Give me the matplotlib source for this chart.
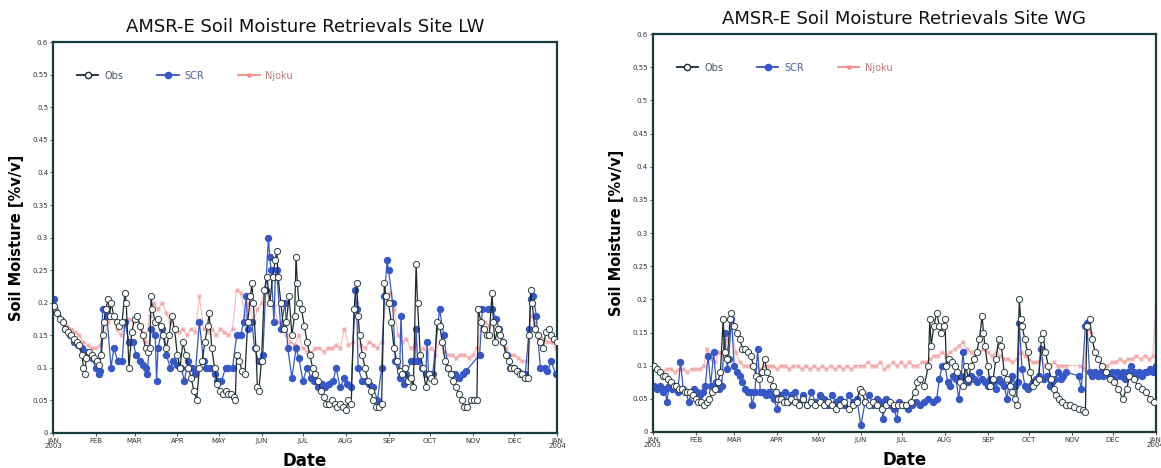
import numpy as np
import matplotlib.pyplot as plt
from matplotlib.lines import Line2D

# day of year 2003 (0 = 1 Jan), soil moisture value
lw_obs = [(1, 0.195), (3, 0.185), (5, 0.175), (7, 0.17), (9, 0.16), (11, 0.155), (13, 0.15), (15, 0.145),
          (17, 0.14), (19, 0.135), (21, 0.12), (22, 0.1), (23, 0.09), (24, 0.115), (26, 0.125), (28, 0.12),
          (30, 0.115), (32, 0.11), (33, 0.105), (35, 0.12), (36, 0.15), (37, 0.17), (38, 0.19), (40, 0.205),
          (41, 0.18), (42, 0.2), (44, 0.18), (46, 0.17), (48, 0.165), (50, 0.17), (52, 0.215), (53, 0.2),
          (55, 0.1), (57, 0.155), (59, 0.175), (61, 0.18), (63, 0.165), (65, 0.15), (67, 0.13), (69, 0.125),
          (70, 0.13), (71, 0.21), (72, 0.19), (74, 0.17), (76, 0.175), (78, 0.165), (80, 0.15), (82, 0.13),
          (84, 0.15), (86, 0.18), (88, 0.16), (90, 0.12), (92, 0.1), (94, 0.14), (96, 0.12), (98, 0.1),
          (100, 0.085), (102, 0.065), (104, 0.05), (106, 0.1), (108, 0.11), (110, 0.14), (112, 0.165),
          (113, 0.185), (115, 0.13), (117, 0.1), (119, 0.075), (121, 0.065), (123, 0.06), (125, 0.065),
          (127, 0.06), (129, 0.06), (131, 0.055), (132, 0.05), (133, 0.12), (135, 0.11), (137, 0.095),
          (139, 0.09), (141, 0.17), (143, 0.21), (144, 0.23), (145, 0.2), (147, 0.13), (148, 0.07),
          (149, 0.065), (151, 0.11), (153, 0.22), (155, 0.24), (157, 0.2), (159, 0.24), (161, 0.265),
          (162, 0.28), (163, 0.24), (165, 0.2), (167, 0.16), (169, 0.17), (171, 0.21), (173, 0.15),
          (175, 0.18), (176, 0.27), (177, 0.23), (178, 0.2), (180, 0.19), (182, 0.165), (184, 0.14),
          (186, 0.12), (188, 0.1), (190, 0.09), (192, 0.08), (194, 0.065), (196, 0.055), (198, 0.045),
          (200, 0.045), (202, 0.05), (204, 0.045), (206, 0.04), (208, 0.045), (210, 0.04), (212, 0.035),
          (214, 0.05), (216, 0.045), (218, 0.19), (220, 0.23), (221, 0.18), (222, 0.15), (224, 0.12),
          (226, 0.1), (228, 0.08), (230, 0.065), (232, 0.05), (234, 0.04), (236, 0.04), (238, 0.045),
          (240, 0.23), (241, 0.21), (243, 0.2), (245, 0.17), (247, 0.13), (249, 0.11), (251, 0.095),
          (253, 0.09), (255, 0.1), (257, 0.08), (259, 0.085), (261, 0.07), (263, 0.26), (264, 0.2),
          (266, 0.12), (268, 0.1), (270, 0.07), (272, 0.09), (274, 0.085), (276, 0.08), (278, 0.17),
          (280, 0.165), (282, 0.14), (284, 0.11), (286, 0.1), (288, 0.09), (290, 0.08), (292, 0.07),
          (294, 0.06), (296, 0.05), (298, 0.04), (300, 0.04), (303, 0.05), (305, 0.05), (307, 0.05),
          (308, 0.19), (310, 0.17), (312, 0.16), (314, 0.15), (316, 0.15), (318, 0.215), (319, 0.17),
          (320, 0.14), (322, 0.16), (324, 0.15), (326, 0.14), (328, 0.12), (330, 0.11), (332, 0.1),
          (334, 0.1), (336, 0.095), (338, 0.09), (340, 0.09), (342, 0.085), (344, 0.085), (345, 0.15),
          (346, 0.22), (347, 0.2), (349, 0.16), (351, 0.15), (353, 0.14), (355, 0.13), (357, 0.155),
          (359, 0.16), (361, 0.15), (363, 0.145), (365, 0.14)]

lw_scr = [(1, 0.205), (9, 0.16), (12, 0.15), (15, 0.14), (18, 0.135), (21, 0.13), (24, 0.125), (26, 0.12),
          (28, 0.115), (31, 0.1), (33, 0.09), (34, 0.095), (36, 0.19), (39, 0.18), (42, 0.1), (44, 0.13),
          (47, 0.11), (50, 0.11), (52, 0.17), (55, 0.14), (58, 0.14), (60, 0.12), (63, 0.11), (65, 0.105),
          (67, 0.1), (68, 0.09), (71, 0.16), (74, 0.15), (75, 0.08), (76, 0.13), (79, 0.16), (82, 0.12),
          (85, 0.1), (87, 0.11), (90, 0.105), (93, 0.1), (95, 0.08), (98, 0.11), (101, 0.1), (103, 0.09),
          (106, 0.17), (109, 0.11), (111, 0.1), (114, 0.1), (117, 0.09), (119, 0.08), (122, 0.08),
          (125, 0.1), (127, 0.1), (130, 0.1), (133, 0.15), (136, 0.15), (138, 0.17), (140, 0.21),
          (141, 0.16), (144, 0.17), (146, 0.13), (149, 0.11), (152, 0.12), (154, 0.22), (156, 0.3),
          (157, 0.27), (158, 0.25), (160, 0.17), (161, 0.24), (162, 0.25), (165, 0.16), (168, 0.2),
          (170, 0.13), (173, 0.085), (176, 0.13), (178, 0.115), (181, 0.08), (184, 0.1), (187, 0.085),
          (189, 0.08), (192, 0.07), (195, 0.075), (197, 0.07), (200, 0.075), (203, 0.08), (205, 0.1),
          (208, 0.07), (211, 0.085), (213, 0.075), (216, 0.07), (219, 0.22), (220, 0.19), (221, 0.1),
          (224, 0.08), (227, 0.08), (229, 0.075), (232, 0.07), (235, 0.05), (238, 0.1), (240, 0.21),
          (242, 0.265), (243, 0.25), (246, 0.2), (248, 0.11), (251, 0.085), (252, 0.18), (254, 0.075),
          (256, 0.09), (259, 0.11), (262, 0.11), (263, 0.16), (264, 0.11), (267, 0.1), (270, 0.09),
          (271, 0.14), (272, 0.09), (275, 0.09), (280, 0.19), (283, 0.15), (286, 0.1), (289, 0.09),
          (291, 0.09), (294, 0.085), (297, 0.09), (299, 0.095), (309, 0.12), (311, 0.19), (315, 0.19),
          (318, 0.19), (321, 0.175), (323, 0.16), (326, 0.14), (329, 0.12), (331, 0.1), (334, 0.1),
          (337, 0.095), (340, 0.09), (342, 0.09), (345, 0.16), (346, 0.205), (348, 0.21), (350, 0.18),
          (353, 0.1), (356, 0.1), (358, 0.095), (361, 0.11), (364, 0.09)]

lw_njoku = [(1, 0.19), (4, 0.18), (7, 0.175), (10, 0.165), (13, 0.16), (16, 0.155), (19, 0.15), (22, 0.14),
            (25, 0.135), (28, 0.13), (31, 0.13), (34, 0.135), (37, 0.15), (40, 0.17), (43, 0.18), (46, 0.16),
            (49, 0.15), (52, 0.165), (55, 0.175), (58, 0.17), (61, 0.175), (64, 0.16), (67, 0.14), (70, 0.18),
            (73, 0.2), (76, 0.19), (79, 0.2), (82, 0.185), (85, 0.17), (88, 0.16), (91, 0.155), (94, 0.16),
            (97, 0.15), (100, 0.16), (103, 0.155), (106, 0.21), (109, 0.16), (112, 0.155), (115, 0.16),
            (118, 0.15), (121, 0.16), (124, 0.155), (127, 0.15), (130, 0.16), (133, 0.22), (136, 0.215),
            (139, 0.18), (142, 0.2), (145, 0.17), (148, 0.19), (151, 0.2), (154, 0.22), (157, 0.2),
            (160, 0.195), (163, 0.17), (166, 0.165), (169, 0.15), (172, 0.14), (175, 0.135), (178, 0.15),
            (181, 0.13), (184, 0.125), (187, 0.125), (190, 0.13), (193, 0.13), (196, 0.125), (199, 0.13),
            (202, 0.13), (205, 0.135), (208, 0.13), (211, 0.16), (214, 0.135), (217, 0.14), (220, 0.2),
            (223, 0.135), (226, 0.13), (229, 0.14), (232, 0.135), (235, 0.13), (238, 0.14), (241, 0.2),
            (244, 0.215), (247, 0.19), (250, 0.15), (253, 0.14), (256, 0.145), (259, 0.13), (262, 0.135),
            (265, 0.12), (268, 0.13), (271, 0.125), (274, 0.13), (277, 0.12), (280, 0.14), (283, 0.125),
            (286, 0.12), (289, 0.12), (292, 0.115), (295, 0.12), (298, 0.12), (301, 0.115), (304, 0.12),
            (307, 0.13), (310, 0.16), (313, 0.17), (316, 0.165), (319, 0.17), (322, 0.16), (325, 0.14),
            (328, 0.13), (331, 0.12), (334, 0.12), (337, 0.115), (340, 0.11), (343, 0.11), (346, 0.18),
            (349, 0.17), (352, 0.15), (355, 0.145), (358, 0.14), (361, 0.14), (364, 0.13)]

wg_obs = [(1, 0.1), (3, 0.095), (5, 0.09), (7, 0.085), (9, 0.085), (11, 0.08), (13, 0.075), (15, 0.07),
          (17, 0.07), (19, 0.065), (21, 0.065), (23, 0.06), (25, 0.06), (27, 0.06), (29, 0.055), (31, 0.05),
          (33, 0.045), (35, 0.045), (37, 0.04), (39, 0.045), (41, 0.05), (43, 0.06), (45, 0.065), (47, 0.075),
          (49, 0.09), (51, 0.17), (52, 0.12), (54, 0.11), (56, 0.17), (57, 0.18), (59, 0.16), (61, 0.15),
          (63, 0.14), (65, 0.125), (67, 0.125), (69, 0.12), (71, 0.115), (73, 0.1), (75, 0.085), (77, 0.08),
          (79, 0.09), (81, 0.11), (83, 0.09), (85, 0.08), (87, 0.07), (89, 0.06), (91, 0.05), (93, 0.05),
          (95, 0.045), (97, 0.045), (100, 0.05), (103, 0.045), (106, 0.04), (109, 0.05), (112, 0.04),
          (115, 0.045), (118, 0.04), (121, 0.045), (124, 0.04), (127, 0.045), (130, 0.04), (133, 0.035),
          (136, 0.04), (139, 0.045), (142, 0.035), (145, 0.04), (148, 0.045), (150, 0.065), (152, 0.06),
          (154, 0.045), (157, 0.04), (160, 0.045), (163, 0.04), (166, 0.035), (169, 0.04), (172, 0.045),
          (175, 0.04), (178, 0.04), (181, 0.04), (184, 0.04), (187, 0.045), (190, 0.06), (192, 0.075),
          (194, 0.08), (197, 0.07), (200, 0.1), (201, 0.17), (202, 0.13), (204, 0.16), (206, 0.18),
          (208, 0.16), (209, 0.15), (211, 0.16), (212, 0.17), (213, 0.1), (215, 0.11), (217, 0.105),
          (219, 0.1), (221, 0.09), (223, 0.075), (225, 0.07), (227, 0.1), (229, 0.08), (231, 0.1),
          (233, 0.11), (235, 0.12), (237, 0.14), (239, 0.175), (240, 0.15), (241, 0.13), (243, 0.1),
          (245, 0.07), (247, 0.08), (249, 0.11), (251, 0.14), (253, 0.13), (255, 0.09), (257, 0.08),
          (259, 0.07), (261, 0.06), (263, 0.05), (264, 0.04), (266, 0.2), (267, 0.17), (268, 0.16),
          (270, 0.14), (272, 0.12), (274, 0.09), (276, 0.07), (278, 0.075), (280, 0.08), (282, 0.14),
          (283, 0.15), (285, 0.12), (287, 0.1), (289, 0.08), (291, 0.065), (293, 0.055), (295, 0.05),
          (297, 0.045), (300, 0.04), (303, 0.04), (306, 0.038), (309, 0.035), (312, 0.033), (314, 0.03),
          (315, 0.16), (317, 0.17), (319, 0.14), (321, 0.12), (323, 0.11), (326, 0.1), (329, 0.09),
          (332, 0.08), (335, 0.075), (338, 0.065), (341, 0.05), (344, 0.065), (346, 0.085), (349, 0.08),
          (352, 0.07), (355, 0.065), (358, 0.06), (361, 0.05), (364, 0.045)]

wg_scr = [(1, 0.07), (3, 0.065), (5, 0.07), (7, 0.06), (9, 0.065), (10, 0.045), (12, 0.07), (14, 0.065),
          (16, 0.07), (18, 0.06), (20, 0.105), (22, 0.065), (24, 0.06), (26, 0.045), (28, 0.06), (30, 0.065),
          (32, 0.06), (34, 0.055), (36, 0.06), (38, 0.07), (40, 0.115), (42, 0.07), (44, 0.12), (46, 0.075),
          (48, 0.065), (50, 0.07), (52, 0.15), (54, 0.095), (55, 0.11), (57, 0.17), (59, 0.1), (61, 0.09),
          (63, 0.085), (65, 0.075), (67, 0.065), (69, 0.06), (71, 0.06), (72, 0.04), (74, 0.06), (76, 0.125),
          (78, 0.06), (80, 0.06), (82, 0.055), (84, 0.06), (86, 0.055), (88, 0.05), (90, 0.035), (92, 0.055),
          (94, 0.05), (96, 0.06), (98, 0.045), (100, 0.055), (103, 0.06), (106, 0.045), (109, 0.055),
          (112, 0.04), (115, 0.06), (118, 0.045), (121, 0.055), (124, 0.05), (127, 0.04), (130, 0.055),
          (133, 0.045), (136, 0.05), (139, 0.04), (142, 0.055), (145, 0.045), (148, 0.05), (151, 0.01),
          (154, 0.045), (157, 0.055), (160, 0.04), (163, 0.05), (166, 0.045), (167, 0.02), (169, 0.05),
          (172, 0.04), (175, 0.035), (177, 0.02), (179, 0.045), (182, 0.04), (185, 0.035), (188, 0.04),
          (191, 0.045), (194, 0.04), (197, 0.045), (200, 0.05), (203, 0.045), (206, 0.05), (208, 0.08),
          (210, 0.1), (212, 0.1), (214, 0.075), (216, 0.07), (218, 0.085), (220, 0.08), (222, 0.05),
          (224, 0.085), (225, 0.12), (227, 0.08), (229, 0.075), (231, 0.085), (233, 0.08), (235, 0.075),
          (237, 0.09), (239, 0.08), (241, 0.075), (243, 0.07), (245, 0.08), (247, 0.075), (249, 0.065),
          (251, 0.08), (253, 0.075), (255, 0.07), (257, 0.05), (259, 0.08), (261, 0.085), (263, 0.07),
          (265, 0.075), (266, 0.165), (268, 0.095), (270, 0.07), (272, 0.065), (274, 0.07), (276, 0.075),
          (278, 0.08), (280, 0.085), (282, 0.125), (284, 0.08), (286, 0.085), (288, 0.07), (290, 0.075),
          (292, 0.08), (294, 0.09), (296, 0.08), (298, 0.085), (300, 0.09), (309, 0.085), (311, 0.065),
          (314, 0.16), (315, 0.165), (317, 0.09), (319, 0.085), (321, 0.09), (323, 0.085), (325, 0.09),
          (327, 0.085), (329, 0.09), (331, 0.085), (333, 0.09), (335, 0.08), (337, 0.09), (339, 0.085),
          (341, 0.09), (343, 0.08), (345, 0.09), (347, 0.1), (349, 0.09), (351, 0.085), (353, 0.09),
          (355, 0.085), (357, 0.09), (359, 0.09), (361, 0.095), (363, 0.09), (365, 0.1)]

wg_njoku = [(1, 0.1), (4, 0.095), (7, 0.09), (10, 0.095), (13, 0.095), (16, 0.09), (19, 0.095), (22, 0.095),
            (25, 0.09), (28, 0.095), (31, 0.095), (34, 0.095), (37, 0.1), (39, 0.125), (42, 0.11), (45, 0.105),
            (48, 0.12), (51, 0.115), (54, 0.14), (57, 0.16), (60, 0.12), (63, 0.105), (66, 0.1), (69, 0.1),
            (72, 0.1), (75, 0.1), (78, 0.095), (81, 0.1), (84, 0.1), (87, 0.1), (90, 0.095), (93, 0.1),
            (96, 0.1), (99, 0.095), (102, 0.1), (105, 0.1), (108, 0.095), (111, 0.1), (114, 0.095), (117, 0.1),
            (120, 0.095), (123, 0.1), (126, 0.095), (129, 0.1), (132, 0.095), (135, 0.1), (138, 0.095),
            (141, 0.1), (144, 0.095), (147, 0.1), (150, 0.1), (153, 0.1), (156, 0.105), (159, 0.1), (162, 0.1),
            (165, 0.105), (168, 0.095), (171, 0.1), (174, 0.105), (177, 0.1), (180, 0.105), (183, 0.1),
            (186, 0.105), (189, 0.1), (192, 0.1), (195, 0.105), (198, 0.105), (201, 0.11), (204, 0.115),
            (207, 0.115), (210, 0.12), (213, 0.115), (216, 0.12), (219, 0.125), (222, 0.13), (225, 0.135),
            (228, 0.125), (231, 0.12), (234, 0.115), (237, 0.12), (240, 0.125), (243, 0.12), (246, 0.115),
            (249, 0.12), (252, 0.115), (255, 0.11), (258, 0.11), (261, 0.105), (264, 0.11), (267, 0.12),
            (270, 0.115), (273, 0.11), (276, 0.105), (279, 0.105), (282, 0.11), (285, 0.1), (288, 0.1),
            (291, 0.105), (294, 0.1), (297, 0.1), (300, 0.1), (310, 0.1), (313, 0.095), (316, 0.155),
            (318, 0.15), (321, 0.12), (324, 0.11), (327, 0.1), (330, 0.1), (333, 0.105), (336, 0.105),
            (339, 0.11), (342, 0.105), (345, 0.11), (348, 0.11), (351, 0.115), (354, 0.11), (357, 0.115),
            (360, 0.11), (363, 0.115), (365, 0.19)]

month_days = [0, 31, 59, 90, 120, 151, 181, 212, 243, 273, 304, 334, 365]
month_labels = ['JAN\n2003', 'FEB', 'MAR', 'APR', 'MAY', 'JUN', 'JUL', 'AUG', 'SEP', 'OCT', 'NOV', 'DEC', 'JAN\n2004']
yticks = [0, 0.05, 0.1, 0.15, 0.2, 0.25, 0.3, 0.35, 0.4, 0.45, 0.5, 0.55, 0.6]
ytick_labels = ['0', '0.05', '0.1', '0.15', '0.2', '0.25', '0.3', '0.35', '0.4', '0.45', '0.5', '0.55', '0.6']

c_obs = '#1c2a2a'
c_scr = '#3557c8'
c_nj = '#f28a8a'
frame_c = '#163c3c'


def draw(ax, obs, scr, nj, title):
    d, v = np.array(nj).T
    ax.plot(d, v, color=c_nj, lw=0.8, alpha=0.6, marker='s', ms=3.4, mec='none', zorder=1)
    d, v = np.array(scr).T
    ax.plot(d, v, color=c_scr, lw=0.9, marker='o', ms=4.3, mec=c_scr, zorder=2)
    d, v = np.array(obs).T
    ax.plot(d, v, color=c_obs, lw=0.9, marker='o', ms=4.5, mfc='white', mec='#2e3e3e', mew=0.7, zorder=3)

    ax.set_xlim(0, 365)
    ax.set_ylim(0, 0.6)
    ax.set_xticks(month_days)
    ax.set_xticklabels(month_labels, fontsize=5, color='#333333', linespacing=0.9)
    ax.set_yticks(yticks)
    ax.set_yticklabels(ytick_labels, fontsize=5, color='#333333')
    ax.tick_params(direction='out', length=2, width=0.6, pad=1.5, colors='#333333')
    for s in ax.spines.values():
        s.set_color(frame_c)
        s.set_linewidth(1.6)
    ax.set_title(title, fontsize=13, pad=7, color='#111111')
    ax.set_xlabel('Date', fontsize=12, fontweight='semibold', labelpad=2)
    ax.set_ylabel('Soil Moisture [%v/v]', fontsize=10.5, fontweight='semibold', labelpad=6)

    handles = [Line2D([], [], color=c_obs, lw=1.3, marker='o', ms=4.5, mfc='white', mec=c_obs),
               Line2D([], [], color=c_scr, lw=1.3, marker='o', ms=4.5, mec=c_scr),
               Line2D([], [], color=c_nj, lw=1.3, marker='s', ms=3.5, mec='none')]
    leg = ax.legend(handles, ['Obs', 'SCR', 'Njoku'], loc='upper left', bbox_to_anchor=(0.03, 0.95),
                    ncol=3, frameon=False, fontsize=7, handlelength=2.2, columnspacing=3.5,
                    handletextpad=0.6)
    for t, c in zip(leg.get_texts(), ['#4a5566', '#4a5fa8', '#c07878']):
        t.set_color(c)


fig = plt.figure(figsize=(11.61, 4.68), dpi=100)
ax1 = fig.add_axes([0.0457, 0.0748, 0.434, 0.835])
ax2 = fig.add_axes([0.5624, 0.077, 0.433, 0.850])

draw(ax1, lw_obs, lw_scr, lw_njoku, 'AMSR-E Soil Moisture Retrievals Site LW')
draw(ax2, wg_obs, wg_scr, wg_njoku, 'AMSR-E Soil Moisture Retrievals Site WG')

fig.savefig('out.png', dpi=100)
